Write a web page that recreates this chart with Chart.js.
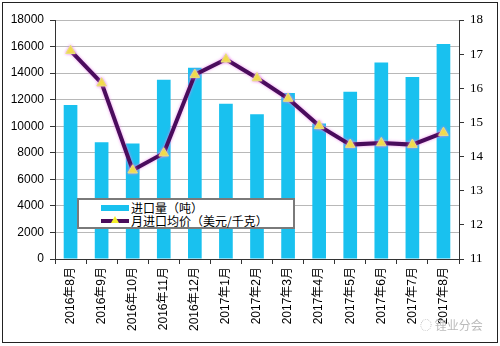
<!DOCTYPE html>
<html>
<head>
<meta charset="utf-8">
<script src="https://cdn.jsdelivr.net/npm/chart.js@4"></script>
<style>
  html, body { margin: 0; padding: 0; background: #fff; }
  #wrap { position: relative; width: 500px; height: 346px; }
  #frame { position: absolute; left: 2px; top: 2px; width: 494px; height: 339px; border: 1px solid #222; pointer-events: none; }
  #legend { position: absolute; left: 77px; top: 198px; width: 214px; height: 27px; background: #fff;
            border: 2px solid #7a7a7a; font: 12px 'Noto Sans CJK SC', sans-serif; color: #000; }
  .row { position: absolute; left: 22px; height: 13px; line-height: 13px; white-space: nowrap;
         display: flex; align-items: center; }
  .sw { display: block; position: relative; width: 28px; margin-right: 2px; }
  .bar { height: 6px; background: #19c1ef; }
  .ln { height: 4px; background: #4a0c5c; }
  .tri { position: absolute; left: 10px; top: -3px; width: 0; height: 0; border-left: 4px solid transparent;
         border-right: 4px solid transparent; border-bottom: 7px solid #f3ee2a; }
  #mark { position: absolute; left: 420px; top: 316px; font: 12px 'Noto Sans CJK SC', sans-serif; color: #bbb; }
</style>
</head>
<body>
<div id="wrap">
  <canvas id="chart" width="500" height="346"></canvas>
  <div id="legend">
    <div class="row" style="top:1px"><span class="sw bar"></span>进口量（吨）</div>
    <div class="row" style="top:14px"><span class="sw ln"><span class="tri"></span></span>月进口均价（美元/千克）</div>
  </div>
  <div id="mark">◌ 锂业分会</div>
  <div id="frame"></div>
</div>
<script>
// 月份
const months = ['2016年8月', '2016年9月', '2016年10月', '2016年11月', '2016年12月', '2017年1月',
    '2017年2月', '2017年3月', '2017年4月', '2017年5月', '2017年6月', '2017年7月', '2017年8月'];
// 进口量（吨）
const importVolume = [11600, 8800, 8700, 13500, 14400, 11700, 10900, 12500, 10200, 12600, 14800, 13700, 16200];
// 月进口均价（美元/千克）
const avgPrice = [17.1, 16.15, 13.6, 14.1, 16.4, 16.85, 16.3, 15.7, 14.9, 14.35, 14.4, 14.35, 14.7];
// 坐标轴范围
const volumeAxis = { min: 0, max: 18000, step: 2000 };
const priceAxis = { min: 11, max: 18, step: 1 };

const sansFont = "'Liberation Sans', 'Noto Sans CJK SC', sans-serif";

// 折线的光晕
const glowPlugin = {
    id: 'glow',
    beforeDatasetDraw(chart, args) {
        if (args.index === 1) {
            chart.ctx.save();
            chart.ctx.shadowColor = 'rgba(235, 130, 235, 0.9)';
            chart.ctx.shadowBlur = 3;
        }
    },
    afterDatasetDraw(chart, args) {
        if (args.index === 1) chart.ctx.restore();
    }
};

const ctx = document.getElementById('chart').getContext('2d');
const chart = new Chart(ctx, {
    type: 'bar',
    data: {
        labels: months,
        datasets: [{
            type: 'bar',
            label: '进口量（吨）',
            data: importVolume,
            backgroundColor: '#19c1ef',
            yAxisID: 'y',
            barPercentage: 0.88,
            categoryPercentage: 0.5,
            order: 1
        }, {
            type: 'line',
            label: '月进口均价（美元/千克）',
            data: avgPrice,
            borderColor: '#4a0c5c',
            borderWidth: 4,
            tension: 0,
            pointStyle: 'triangle',
            pointRadius: 5.5,
            pointBackgroundColor: '#f3ee2a',
            pointBorderColor: '#e6e67a',
            pointBorderWidth: 1,
            yAxisID: 'y1',
            order: 0
        }]
    },
    plugins: [glowPlugin],
    options: {
        responsive: false,
        animation: false,
        devicePixelRatio: 1,
        layout: { padding: { top: 20, left: 0, right: 0, bottom: 0 } },
        plugins: {
            legend: { display: false },
            tooltip: { enabled: false }
        },
        scales: {
            x: {
                offset: true,
                grid: { offset: true, drawOnChartArea: false, drawTicks: true, tickLength: 5, color: '#333' },
                border: { color: '#333', width: 1 },
                ticks: {
                    minRotation: 90, maxRotation: 90, autoSkip: false, padding: 3,
                    color: '#000', font: { family: sansFont, size: 12 }
                },
                afterFit: s => { s.height = 87; }
            },
            y: {
                position: 'left',
                min: volumeAxis.min, max: volumeAxis.max,
                grid: { color: '#b8b8b8', tickColor: '#333', tickLength: 5 },
                border: { color: '#333', width: 1 },
                ticks: {
                    stepSize: volumeAxis.step, padding: 6, color: '#000',
                    font: { family: sansFont, size: 12 },
                    callback: v => String(v)
                },
                afterFit: s => { s.width = 55; }
            },
            y1: {
                position: 'right',
                min: priceAxis.min, max: priceAxis.max,
                grid: { drawOnChartArea: false, tickColor: '#333', tickLength: 5 },
                border: { color: '#333', width: 1 },
                ticks: {
                    stepSize: priceAxis.step, padding: 6, color: '#000',
                    font: { family: "'Liberation Serif', serif", size: 13 }
                },
                afterFit: s => { s.width = 41; }
            }
        }
    }
});
</script>
</body>
</html>
